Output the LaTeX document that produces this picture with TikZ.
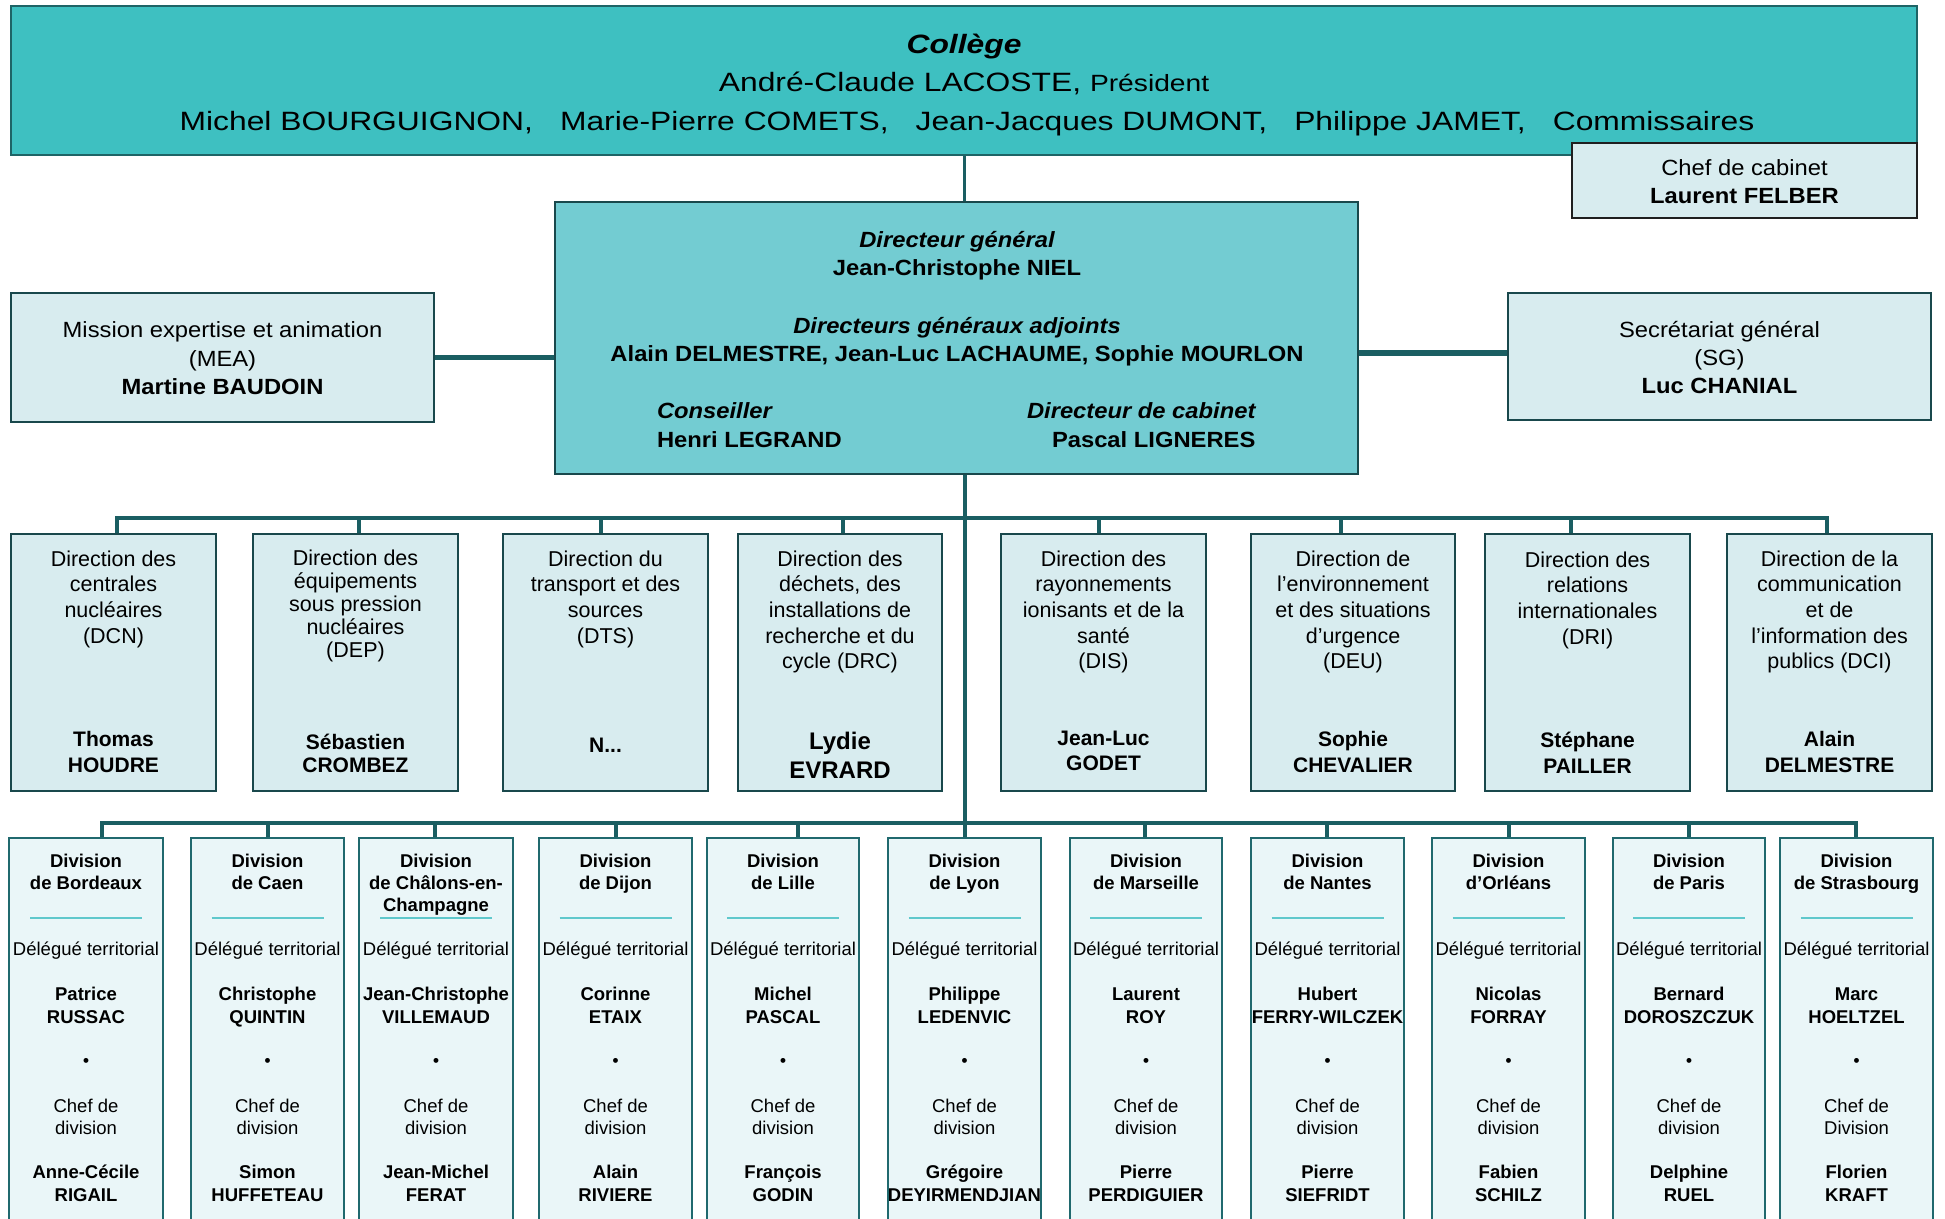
\documentclass[tikz,border=0pt]{standalone}
\usepackage{fontspec}
\setmainfont{Liberation Sans}
\newfontfamily\colfont[FakeStretch=1.2]{Liberation Sans}
\newfontfamily\upfont[FakeStretch=1.08]{Liberation Sans}
\usetikzlibrary{backgrounds}
\definecolor{colfill}{RGB}{62,192,193}
\definecolor{colbord}{RGB}{30,100,102}
\definecolor{dgfill}{RGB}{115,204,210}
\definecolor{lightfill}{RGB}{216,236,239}
\definecolor{divfill}{RGB}{234,246,248}
\definecolor{connc}{RGB}{26,94,98}
\definecolor{bord}{RGB}{25,72,76}
\definecolor{divbord}{RGB}{32,105,110}
\definecolor{sepc}{RGB}{95,200,204}
\newcommand\fcol{\colfont\fontsize{26.5}{32}\selectfont}
\newcommand\fpres{\colfont\fontsize{23.5}{30}\selectfont}
\newcommand\fup{\upfont\fontsize{22}{27}\selectfont}
\newcommand\fupb{\upfont\bfseries\fontsize{22}{27}\selectfont}
\newcommand\fupbi{\upfont\bfseries\itshape\fontsize{22}{27}\selectfont}
\newcommand\fdir{\fontsize{21.5}{25}\selectfont}
\newcommand\fdirb{\bfseries\fontsize{21}{25}\selectfont}
\newcommand\fdirbb{\bfseries\fontsize{24}{28}\selectfont}
\newcommand\fdiv{\fontsize{18.5}{22}\selectfont}
\newcommand\fdivb{\bfseries\fontsize{18.5}{22}\selectfont}
\newcommand\fbul{\bfseries\fontsize{17}{20}\selectfont}
\tikzset{
  txt/.style={inner sep=0pt, outer sep=0pt, anchor=base, text=black},
  txtw/.style={txt, anchor=base west},
  boxbase/.style={rectangle, anchor=north west, inner sep=0pt, outer sep=0pt},
  collegebox/.style={boxbase, fill=colfill, draw=colbord, line width=1.5pt},
  dgbox/.style={boxbase, fill=dgfill, draw=bord, line width=2.5pt},
  sidebox/.style={boxbase, fill=lightfill, draw=bord, line width=2.5pt},
  cabbox/.style={boxbase, fill=lightfill, draw=black!88, line width=2.5pt},
  dirbox/.style={boxbase, fill=lightfill, draw=bord, line width=2.5pt, minimum height=257pt},
  divbox/.style={boxbase, fill=divfill, draw=divbord, line width=2pt, minimum height=420pt},
  conn/.style={draw=connc, line width=4pt, line join=miter},
  sepline/.style={draw=sepc, line width=2.8pt},
}
% name, x, first baseline, dy, font, list of lines
\newcommand\tlines[6]{%
  \foreach \tx [count=\ti] in {#6}{%
    \node[txt, font=#5] (#1-\ti) at (#2,{#3+(\ti-1)*(#4)}) {\tx};}}
% name, cx, title lines, delegate, chef lines, chef name
\newcommand\divcol[6]{%
  \tlines{#1t}{#2}{867.5}{22}{\fdivb}{#3}
  \draw[sepline] (#2-56,918) -- (#2+56,918);
  \node[txt, font=\fdiv] (#1dl) at (#2,955.5) {Délégué territorial};
  \tlines{#1n}{#2}{1000.5}{23}{\fdivb}{#4}
  \node[txt, font=\fbul] (#1b) at (#2,1066) {•};
  \tlines{#1c}{#2}{1112}{22}{\fdiv}{#5}
  \tlines{#1m}{#2}{1178.5}{23}{\fdivb}{#6}}
\begin{document}
\begin{tikzpicture}[x=1pt,y=-1pt]
\useasboundingbox (0,0) rectangle (1945,1218);
\clip (0,0) rectangle (1945,1218);

% ---------- boxes ----------
\node[collegebox, minimum width=1906pt, minimum height=149pt] (col) at (11,6) {};
\node[cabbox, minimum width=345pt, minimum height=75pt] (cab) at (1572,143) {};
\node[dgbox, minimum width=803pt, minimum height=272pt] (dg) at (555,202) {};
\node[sidebox, minimum width=423pt, minimum height=129pt] (mea) at (11,293) {};
\node[sidebox, minimum width=423pt, minimum height=127pt] (sg) at (1508,293) {};

\node[dirbox, minimum width=205pt] (dcn) at (11,534) {};
\node[dirbox, minimum width=205pt] (dep) at (253,534) {};
\node[dirbox, minimum width=205pt] (dts) at (503,534) {};
\node[dirbox, minimum width=204pt] (drc) at (738,534) {};
\node[dirbox, minimum width=205pt] (dis) at (1001,534) {};
\node[dirbox, minimum width=204pt] (deu) at (1251,534) {};
\node[dirbox, minimum width=205pt] (dri) at (1485,534) {};
\node[dirbox, minimum width=205pt] (dci) at (1727,534) {};

\node[divbox, minimum width=154pt] (bdx) at (9,838) {};
\node[divbox, minimum width=153pt] (cae) at (191,838) {};
\node[divbox, minimum width=154pt] (cha) at (359,838) {};
\node[divbox, minimum width=153pt] (dij) at (539,838) {};
\node[divbox, minimum width=152pt] (lil) at (707,838) {};
\node[divbox, minimum width=153pt] (lyo) at (888,838) {};
\node[divbox, minimum width=152pt] (mar) at (1070,838) {};
\node[divbox, minimum width=153pt] (nan) at (1251,838) {};
\node[divbox, minimum width=153pt] (orl) at (1432,838) {};
\node[divbox, minimum width=152pt] (par) at (1613,838) {};
\node[divbox, minimum width=153pt] (str) at (1780,838) {};

% ---------- junctions ----------
\coordinate (jd1) at (117,518);
\coordinate (jd2) at (359,518);
\coordinate (jd3) at (601,518);
\coordinate (jd4) at (843,518);
\coordinate (jd5) at (1099,518);
\coordinate (jd6) at (1341,518);
\coordinate (jd7) at (1571,518);
\coordinate (jd8) at (1827,518);
\coordinate (jv1) at (102,823);
\coordinate (jv2) at (268,823);
\coordinate (jv3) at (435,823);
\coordinate (jv4) at (616,823);
\coordinate (jv5) at (798,823);
\coordinate (jv7) at (1145,823);
\coordinate (jv8) at (1327,823);
\coordinate (jv9) at (1509,823);
\coordinate (jv10) at (1689,823);
\coordinate (jv11) at (1856,823);

% ---------- connectors ----------
\begin{scope}[on background layer]
\draw[conn, line width=3pt] (col.south) -- (col.south |- dg.north);
\draw[conn, line width=5.5pt] (mea.east) -- (mea.east -| dg.west);
\draw[conn, line width=5.5pt] ([yshift=3.5pt]sg.west) -- ([yshift=3.5pt]sg.west -| dg.east);
\draw[conn] (lyo.north |- dg.south) -- (lyo.north);
\draw[conn, line width=4.5pt] (jd1 |- dcn.north) -- (jd1) -- (jd8) -- (jd8 |- dci.north);
\draw[conn] (jd2) -- (jd2 |- dep.north);
\draw[conn] (jd3) -- (jd3 |- dts.north);
\draw[conn] (jd4) -- (jd4 |- drc.north);
\draw[conn] (jd5) -- (jd5 |- dis.north);
\draw[conn] (jd6) -- (jd6 |- deu.north);
\draw[conn] (jd7) -- (jd7 |- dri.north);
\draw[conn, line width=4.5pt] (jv1 |- bdx.north) -- (jv1) -- (jv11) -- (jv11 |- str.north);
\draw[conn] (jv2) -- (jv2 |- cae.north);
\draw[conn] (jv3) -- (jv3 |- cha.north);
\draw[conn] (jv4) -- (jv4 |- dij.north);
\draw[conn] (jv5) -- (jv5 |- lil.north);
\draw[conn] (jv7) -- (jv7 |- mar.north);
\draw[conn] (jv8) -- (jv8 |- nan.north);
\draw[conn] (jv9) -- (jv9 |- orl.north);
\draw[conn] (jv10) -- (jv10 |- par.north);
\end{scope}

% ---------- texts: top ----------
\node[txt, font=\fcol\bfseries\itshape] (c1) at (964,53) {Collège};
\node[txt, font=\fcol] (c2) at (964,91.5) {André-Claude LACOSTE, {\fpres Président}};
\node[txt, font=\fcol] (c3) at (967,130) {Michel BOURGUIGNON,\hspace{27pt}Marie-Pierre COMETS,\hspace{27pt}Jean-Jacques DUMONT,\hspace{27pt}Philippe JAMET,\hspace{27pt}Commissaires};

\node[txt, font=\fup] (cab1) at (1744.5,175) {Chef de cabinet};
\node[txt, font=\fupb] (cab2) at (1744.5,203.5) {Laurent FELBER};

\node[txt, font=\fupbi] (dg1) at (957,247.5) {Directeur général};
\node[txt, font=\fupb] (dg2) at (957,275.5) {Jean-Christophe NIEL};
\node[txt, font=\fupbi] (dg3) at (957,333) {Directeurs généraux adjoints};
\node[txt, font=\fupb] (dg4) at (957,361) {Alain DELMESTRE, Jean-Luc LACHAUME, Sophie MOURLON};
\node[txtw, font=\fupbi] (dg5) at (657,418.5) {Conseiller};
\node[txtw, font=\fupb] (dg6) at (657,447) {Henri LEGRAND};
\node[txtw, font=\fupbi] (dg7) at (1027,418.5) {Directeur de cabinet};
\node[txtw, font=\fupb] (dg8) at (1052,447) {Pascal LIGNERES};

\node[txt, font=\fup] (mea1) at (222.5,337.5) {Mission expertise et animation};
\node[txt, font=\fup] (mea2) at (222.5,366) {(MEA)};
\node[txt, font=\fupb] (mea3) at (222.5,394) {Martine BAUDOIN};

\node[txt, font=\fup] (sg1) at (1719.5,337) {Secrétariat général};
\node[txt, font=\fup] (sg2) at (1719.5,365) {(SG)};
\node[txt, font=\fupb] (sg3) at (1719.5,393) {Luc CHANIAL};

% ---------- texts: directions ----------
\tlines{dcnt}{113.5}{566}{25.7}{\fdir}{Direction des, centrales, nucléaires, (DCN)}
\tlines{dcnn}{113.5}{746.5}{26}{\fdirb}{Thomas, HOUDRE}
\tlines{dept}{355.5}{565.5}{23}{\fdir}{Direction des, équipements, sous pression, nucléaires, (DEP)}
\tlines{depn}{355.5}{749}{23}{\fdirb}{Sébastien, CROMBEZ}
\tlines{dtst}{605.5}{566}{25.7}{\fdir}{Direction du, transport et des, sources, (DTS)}
\node[txt, font=\fdirb] (dtsn) at (605.5,752.5) {N...};
\tlines{drct}{840}{566}{25.7}{\fdir}{Direction des, {déchets, des}, installations de, recherche et du, cycle (DRC)}
\tlines{drcn}{840}{749.5}{28.5}{\fdirbb}{Lydie, EVRARD}
\tlines{dist}{1103.5}{566}{25.7}{\fdir}{Direction des, rayonnements, ionisants et de la, santé, (DIS)}
\tlines{disn}{1103.5}{745.5}{25}{\fdirb}{Jean-Luc, GODET}
\tlines{deut}{1353}{566}{25.7}{\fdir}{Direction de, l’environnement, et des situations, d’urgence, (DEU)}
\tlines{deun}{1353}{746.5}{26}{\fdirb}{Sophie, CHEVALIER}
\tlines{drit}{1587.5}{567}{25.7}{\fdir}{Direction des, relations, internationales, (DRI)}
\tlines{drin}{1587.5}{747.5}{26}{\fdirb}{Stéphane, PAILLER}
\tlines{dcit}{1829.5}{566}{25.7}{\fdir}{Direction de la, communication, et de, l’information des, publics (DCI)}
\tlines{dcin}{1829.5}{746.5}{26}{\fdirb}{Alain, DELMESTRE}

% ---------- texts: divisions ----------
\divcol{bdx}{86}{Division, de Bordeaux}{Patrice, RUSSAC}{Chef de, division}{Anne-Cécile, RIGAIL}
\divcol{cae}{267.5}{Division, de Caen}{Christophe, QUINTIN}{Chef de, division}{Simon, HUFFETEAU}
\divcol{cha}{436}{Division, de Châlons-en-, Champagne}{Jean-Christophe, VILLEMAUD}{Chef de, division}{Jean-Michel, FERAT}
\divcol{dij}{615.5}{Division, de Dijon}{Corinne, ETAIX}{Chef de, division}{Alain, RIVIERE}
\divcol{lil}{783}{Division, de Lille}{Michel, PASCAL}{Chef de, division}{François, GODIN}
\divcol{lyo}{964.5}{Division, de Lyon}{Philippe, LEDENVIC}{Chef de, division}{Grégoire, DEYIRMENDJIAN}
\divcol{mar}{1146}{Division, de Marseille}{Laurent, ROY}{Chef de, division}{Pierre, PERDIGUIER}
\divcol{nan}{1327.5}{Division, de Nantes}{Hubert, FERRY-WILCZEK}{Chef de, division}{Pierre, SIEFRIDT}
\divcol{orl}{1508.5}{Division, d’Orléans}{Nicolas, FORRAY}{Chef de, division}{Fabien, SCHILZ}
\divcol{par}{1689}{Division, de Paris}{Bernard, DOROSZCZUK}{Chef de, division}{Delphine, RUEL}
\divcol{str}{1856.5}{Division, de Strasbourg}{Marc, HOELTZEL}{Chef de, Division}{Florien, KRAFT}
\end{tikzpicture}
\end{document}
